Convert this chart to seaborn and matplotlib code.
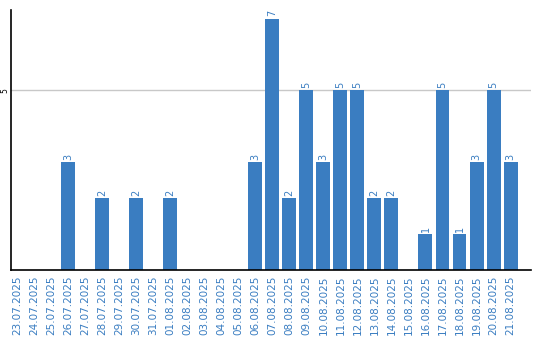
import matplotlib
matplotlib.use("Agg")
import matplotlib.pyplot as plt
import seaborn as sns
import pandas as pd

dates = ["23.07.2025", "24.07.2025", "25.07.2025", "26.07.2025", "27.07.2025",
         "28.07.2025", "29.07.2025", "30.07.2025", "31.07.2025", "01.08.2025",
         "02.08.2025", "03.08.2025", "04.08.2025", "05.08.2025", "06.08.2025",
         "07.08.2025", "08.08.2025", "09.08.2025", "10.08.2025", "11.08.2025",
         "12.08.2025", "13.08.2025", "14.08.2025", "15.08.2025", "16.08.2025",
         "17.08.2025", "18.08.2025", "19.08.2025", "20.08.2025", "21.08.2025"]
values = [0, 0, 0, 3, 0, 2, 0, 2, 0, 2, 0, 0, 0, 0, 3,
          7, 2, 5, 3, 5, 5, 2, 2, 0, 1, 5, 1, 3, 5, 3]

df = pd.DataFrame({"date": dates, "count": values})
blue = "#3a7dc1"

sns.set_style("white")
plt.rcParams['font.family'] = ['DejaVu Sans']

fig = plt.figure(figsize=(5.4, 3.4), dpi=100)
ax = fig.add_axes([11/540, 1 - 270/340, 520/540, 260/340])

sns.barplot(data=df, x="date", y="count", order=dates, color=blue,
            saturation=1, width=0.82, ax=ax, linewidth=0)

ax.set_xlim(-0.35, 30.2)
ax.set_ylim(0, 7.24)
ax.set_yticks([5])
ax.set_yticklabels(["5"], rotation=90, va="center", fontsize=5.5, color="black")
ax.yaxis.grid(True, color="#c8c8c8", linewidth=1)
ax.set_axisbelow(True)
ax.tick_params(axis="y", length=0, pad=1.5)
ax.tick_params(axis="x", length=0, pad=4)
ax.set_xticks(range(len(dates)))
ax.set_xticklabels(dates, rotation=90, fontsize=7.5, color=blue)
ax.set_xlabel("")
ax.set_ylabel("")

for s in ["top", "right"]:
    ax.spines[s].set_visible(False)
for s in ["left", "bottom"]:
    ax.spines[s].set_color("black")
    ax.spines[s].set_linewidth(1.2)

for i, v in enumerate(values):
    if v > 0:
        ax.text(i, v + 0.07, str(v), rotation=90, ha="center", va="bottom",
                fontsize=7, color=blue)

fig.savefig("out.png", dpi=100)
